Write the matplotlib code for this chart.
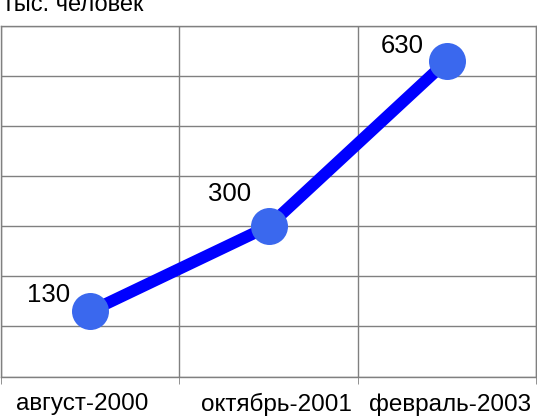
import matplotlib.pyplot as plt
import matplotlib.transforms as mtransforms
import numpy as np

plt.rcParams["font.family"] = ["Liberation Sans", "DejaVu Sans"]

categories = ["август-2000", "октябрь-2001", "февраль-2003"]
values = [130, 300, 630]
unit_label = "тыс. человек"

# label offsets from each point, in points (style only)
label_offsets = [(-30, 12), (-28, 23), (-32, 11)]
# small horizontal nudges of category labels, in pixels
tick_nudges = [-8, 8, 3]

fig = plt.figure(figsize=(5.37, 4.18), dpi=100)
ax = fig.add_axes([1 / 537, 1 - 376.5 / 418, 535 / 537, 350.5 / 418])

x = np.arange(len(categories))
ax.plot(x, values, color="#0000ff", linewidth=8.5, solid_capstyle="butt", zorder=3)
ax.scatter(x, values, s=(2 * 18.5 * 0.72) ** 2,
           color="#3a68ee", zorder=4, linewidths=0)

for xi, v, off in zip(x, values, label_offsets):
    ax.annotate(str(v), (xi, v), xytext=off, textcoords="offset points",
                ha="center", va="center", fontsize=18.5, color="black")

ax.set_xlim(-0.5, 2.5)
ax.set_ylim(0, 700)
ax.set_yticks(np.arange(0, 701, 100))
ax.set_yticklabels([])
ax.tick_params(axis="y", length=0)
ax.set_xticks(x)
ax.set_xticklabels(categories, fontsize=17.5)
ax.tick_params(axis="x", length=0, pad=12)
ax.set_xticks([-0.5, 0.5, 1.5, 2.5], minor=True)
ax.tick_params(axis="x", which="minor", length=5, color="#808080")

for lbl, dx in zip(ax.get_xticklabels(), tick_nudges):
    lbl.set_transform(lbl.get_transform() +
                      mtransforms.ScaledTranslation(dx / 100, 0, fig.dpi_scale_trans))

ax.grid(True, axis="y", color="#808080", linewidth=1)
ax.grid(True, axis="x", which="minor", color="#808080", linewidth=1)
for s in ax.spines.values():
    s.set_color("#808080")
    s.set_linewidth(1)

fig.text(3 / 537, 1 + 6 / 418, unit_label, fontsize=17, ha="left", va="top")

fig.savefig("out.png", dpi=100)
